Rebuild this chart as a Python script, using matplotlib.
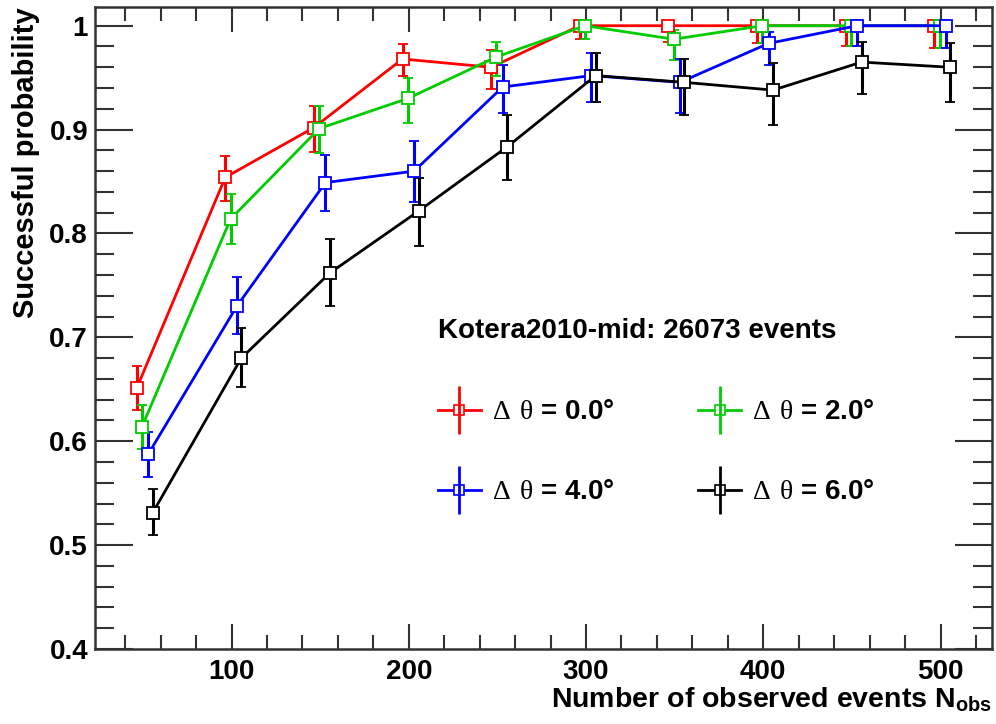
import matplotlib
matplotlib.use("Agg")
import matplotlib.pyplot as plt
from matplotlib.lines import Line2D
from matplotlib.ticker import MultipleLocator, FuncFormatter

plt.rcParams['font.family'] = ['Liberation Sans', 'DejaVu Sans']
plt.rcParams['font.weight'] = 'bold'
plt.rcParams['mathtext.fontset'] = 'custom'
plt.rcParams['mathtext.rm'] = 'Liberation Serif:normal'
plt.rcParams['mathtext.bf'] = 'Liberation Sans:bold'

# number of observed events
n_obs = [50, 100, 150, 200, 250, 300, 350, 400, 450, 500]

# successful probability for each angular resolution, with lower / upper errors
p_00 = [0.651, 0.854, 0.902, 0.968, 0.960, 1.0, 1.0, 1.0, 1.0, 1.0]
lo_00 = [0.021, 0.023, 0.024, 0.016, 0.021, 0.013, 0.016, 0.017, 0.020, 0.021]
hi_00 = [0.021, 0.021, 0.021, 0.014, 0.017, 0.0, 0.0, 0.0, 0.0, 0.0]

p_20 = [0.614, 0.814, 0.901, 0.930, 0.970, 1.0, 0.987, 1.0, 1.0, 1.0]
lo_20 = [0.021, 0.024, 0.024, 0.024, 0.018, 0.013, 0.020, 0.017, 0.020, 0.021]
hi_20 = [0.021, 0.024, 0.022, 0.020, 0.014, 0.0, 0.009, 0.0, 0.0, 0.0]

p_40 = [0.5875, 0.730, 0.849, 0.860, 0.941, 0.952, 0.9455, 0.983, 1.0, 1.0]
lo_40 = [0.022, 0.027, 0.027, 0.030, 0.025, 0.025, 0.030, 0.021, 0.020, 0.021]
hi_40 = [0.021, 0.028, 0.027, 0.029, 0.021, 0.022, 0.022, 0.011, 0.0, 0.0]

p_60 = [0.531, 0.680, 0.762, 0.8215, 0.8834, 0.952, 0.9455, 0.938, 0.965, 0.960]
lo_60 = [0.021, 0.028, 0.032, 0.034, 0.032, 0.025, 0.031, 0.034, 0.031, 0.033]
hi_60 = [0.023, 0.029, 0.033, 0.032, 0.031, 0.022, 0.022, 0.026, 0.019, 0.023]

labels = ['0.0', '2.0', '4.0', '6.0']
colors = ['#ff0000', '#00cc00', '#0000ff', '#000000']
# small horizontal shifts so the points don't sit on top of each other
shifts = [-3.5, -0.5, 3.0, 5.5]

series = [(p_00, lo_00, hi_00), (p_20, lo_20, hi_20),
          (p_40, lo_40, hi_40), (p_60, lo_60, hi_60)]

fig = plt.figure(figsize=(9.96, 7.24), dpi=100)
ax = fig.add_axes([0.0954, 0.1036, 0.9005, 0.8867])

handles = []
for (p, lo, hi), c, dx, lab in zip(series, colors, shifts, labels):
    x = [n + dx for n in n_obs]
    ax.errorbar(x, p, yerr=[lo, hi], color=c, lw=2, elinewidth=2.2,
                capsize=3.5, capthick=2, marker='s', ms=8.5, mfc='white',
                mec=c, mew=1.3)
    h = (Line2D([], [], color=c, lw=2, marker='s', ms=7, mfc='white', mec=c, mew=1.2),
         Line2D([], [], color=c, ls='none', marker='|', ms=34, mew=2))
    handles.append((h, r'$\mathrm{\Delta\ \theta}$ = ' + lab + '°'))

ax.set_xlim(23, 529)
ax.set_ylim(0.4, 1.018)
ax.xaxis.set_major_locator(MultipleLocator(100))
ax.xaxis.set_minor_locator(MultipleLocator(20))
ax.yaxis.set_major_locator(MultipleLocator(0.1))
ax.yaxis.set_minor_locator(MultipleLocator(0.02))
ax.yaxis.set_major_formatter(FuncFormatter(lambda v, pos: '%g' % round(v, 2)))

ax.tick_params(which='both', direction='in', top=True, right=True,
               labelsize=20, width=1.5, color='#333333')
ax.tick_params(axis='x', which='major', length=18, pad=7)
ax.tick_params(axis='x', which='minor', length=10)
ax.tick_params(axis='y', which='major', length=27, pad=5)
ax.tick_params(axis='y', which='minor', length=14)
for s in ax.spines.values():
    s.set_linewidth(1.8)
    s.set_color('#333333')

ax.set_xlabel(r'Number of observed events N$_{\mathbf{obs}}$', fontsize=20.5,
              fontweight='bold', loc='right', labelpad=0)
ax.set_ylabel('Successful probability', fontsize=21, fontweight='bold',
              loc='top', labelpad=7)

# legend rows: 0.0 / 2.0 on top, 4.0 / 6.0 below
order = [0, 2, 1, 3]
leg = ax.legend([handles[i][0] for i in order], [handles[i][1] for i in order],
                ncol=2, loc='upper left', bbox_to_anchor=(0.382, 0.516),
                frameon=False, fontsize=20, handlelength=1.55,
                labelspacing=1.95, columnspacing=3.0, handletextpad=0.4,
                borderpad=0, borderaxespad=0,
                title='Kotera2010-mid: 26073 events',
                title_fontproperties={'size': 20, 'weight': 'bold'},
                alignment='left')
leg._legend_box.sep = 40

fig.savefig('out.png', dpi=100)
